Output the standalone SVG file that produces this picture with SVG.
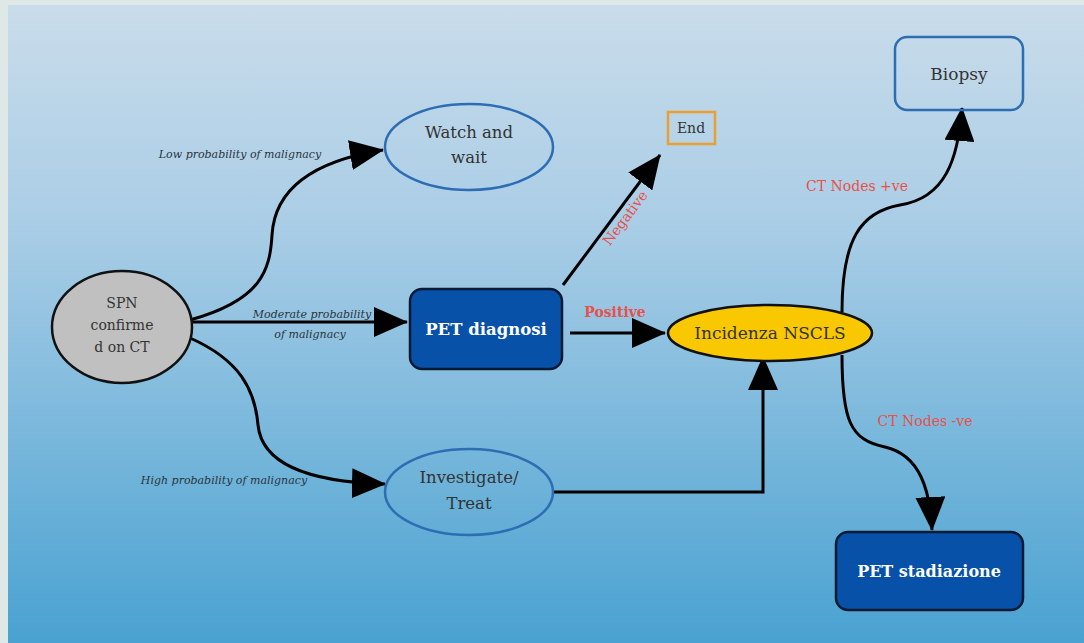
<svg xmlns="http://www.w3.org/2000/svg" width="1084" height="643" viewBox="0 0 1084 643">
<defs>
<linearGradient id="bg" x1="0" y1="0" x2="0" y2="1">
<stop offset="0" stop-color="#c9dcea"/>
<stop offset="0.35" stop-color="#a9cde6"/>
<stop offset="1" stop-color="#49a2d1"/>
</linearGradient>
<marker id="arr" viewBox="0 0 34 30" refX="33" refY="15" markerWidth="34" markerHeight="30" markerUnits="userSpaceOnUse" orient="auto">
<path d="M0,0 L34,15 L0,30 Z" fill="#000"/>
</marker>
</defs>
<style>
.t{font-family:"DejaVu Serif","Liberation Serif",serif;fill:#333;text-anchor:middle}
.lbl{font-family:"DejaVu Serif","Liberation Serif",serif;font-style:italic;font-size:11px;fill:#2a3440;text-anchor:middle}
.red{font-family:"DejaVu Serif","Liberation Serif",serif;font-size:14px;fill:#e8504a;text-anchor:middle}
.w{font-family:"DejaVu Serif","Liberation Serif",serif;font-weight:bold;fill:#fff;text-anchor:middle}
.c{fill:none;stroke:#000;stroke-width:3;marker-end:url(#arr)}
.lightnode{fill:none;stroke:#2d6db3;stroke-width:2.5}
.darknode{fill:#0751a8;stroke:#0b1a33;stroke-width:2.5}
</style>
<rect x="0" y="0" width="1084" height="643" fill="#dee8e6"/>
<rect x="8" y="5" width="1076" height="638" fill="url(#bg)"/>
<g id="connectors">
<path class="c" d="M190,320 C262,300 270,270 272,235 C275,185 320,160 383,150"/>
<path class="c" d="M190,322 L407,322"/>
<path class="c" d="M190,338 C240,360 255,390 258,425 C262,465 310,482 385,484"/>
<path class="c" d="M563,285 L660,155"/>
<path class="c" d="M570,333 L665,333"/>
<path class="c" d="M552,492 L763,492 L763,357"/>
<path class="c" d="M842,312 C842,240 860,212 900,205 C945,198 958,160 962,108"/>
<path class="c" d="M842,355 C842,420 850,440 885,447 C920,455 930,490 932,530"/>
<text class="lbl" x="240" y="158">Low probability of malignacy</text>
<text class="lbl" x="312" y="318">Moderate probability</text>
<text class="lbl" x="310" y="338">of malignacy</text>
<text class="lbl" x="224" y="484">High probability of malignacy</text>
<text class="red" x="629" y="221" font-size="13.5" transform="rotate(-53 629 221)">Negative</text>
<text class="red" x="615" y="317" font-weight="bold" font-size="12.5">Positive</text>
<text class="red" x="857" y="191">CT Nodes +ve</text>
<text class="red" x="925" y="426">CT Nodes -ve</text>
</g>
<g id="spn">
<ellipse cx="122" cy="327" rx="70" ry="56" fill="#c0c0c0" stroke="#111" stroke-width="2.5"/>
<text class="t" font-size="14" x="122" y="308">SPN</text>
<text class="t" font-size="14" x="122" y="330">confirme</text>
<text class="t" font-size="14" x="122" y="352">d on CT</text>
</g>
<g id="watch">
<ellipse class="lightnode" cx="469" cy="147" rx="84" ry="43"/>
<text class="t" font-size="16.5" x="469" y="138">Watch and</text>
<text class="t" font-size="16.5" x="469" y="163">wait</text>
</g>
<g id="end">
<rect x="668" y="112" width="47" height="32" fill="none" stroke="#e9a030" stroke-width="2.5"/>
<text class="t" font-size="14" x="691" y="133">End</text>
</g>
<g id="petdiag">
<rect class="darknode" x="410" y="289" width="152" height="80" rx="12"/>
<text class="w" font-size="16.5" x="486" y="335">PET diagnosi</text>
</g>
<g id="incidenza">
<ellipse cx="770" cy="333" rx="102" ry="28" fill="#f9c800" stroke="#111" stroke-width="2.5"/>
<text class="t" font-size="17" x="770" y="339" fill="#2a2a1a">Incidenza NSCLS</text>
</g>
<g id="investigate">
<ellipse class="lightnode" cx="469" cy="492" rx="84" ry="43"/>
<text class="t" font-size="16.5" x="469" y="483">Investigate/</text>
<text class="t" font-size="16.5" x="469" y="509">Treat</text>
</g>
<g id="biopsy">
<rect class="lightnode" x="895" y="37" width="128" height="73" rx="12"/>
<text class="t" font-size="17" x="959" y="80">Biopsy</text>
</g>
<g id="petstad">
<rect class="darknode" x="836" y="532" width="187" height="78" rx="12"/>
<text class="w" font-size="16" x="929" y="577">PET stadiazione</text>
</g>
</svg>
